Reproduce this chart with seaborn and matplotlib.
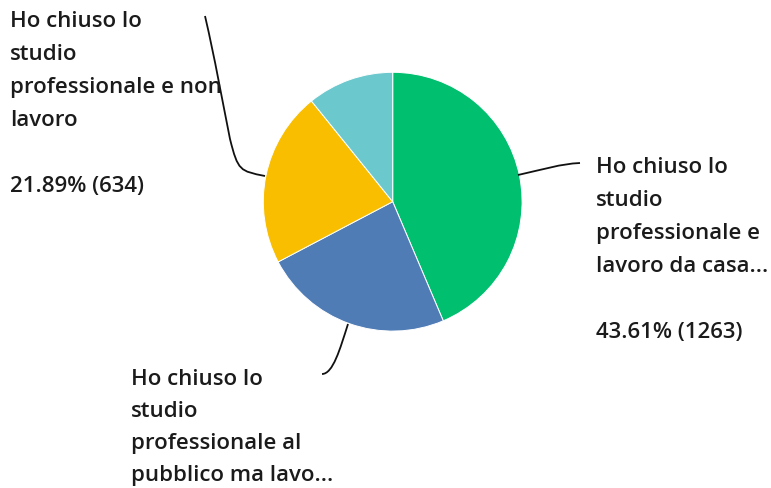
import matplotlib
matplotlib.use("Agg")
import matplotlib.pyplot as plt
from matplotlib.path import Path
from matplotlib.patches import PathPatch
import seaborn as sns

# ---- data ----
categories = [
    "Ho chiuso lo studio professionale e lavoro da casa...",
    "Ho chiuso lo studio professionale al pubblico ma lavo...",
    "Ho chiuso lo studio professionale e non lavoro",
    "Altro",
]
counts = [1263, 686, 634, 313]
colors = ["#00BF6F", "#507CB6", "#F9BE00", "#6BC8CD"]

label_green = ["Ho chiuso lo", "studio", "professionale e", "lavoro da casa...", "", "43.61% (1263)"]
label_blue = ["Ho chiuso lo", "studio", "professionale al", "pubblico ma lavo..."]
label_yellow = ["Ho chiuso lo", "studio", "professionale e non", "lavoro", "", "21.89% (634)"]

sns.set_theme(style="white")
plt.rcParams["font.family"] = ["Open Sans", "DejaVu Sans"]

W, H = 771, 489
fig = plt.figure(figsize=(W / 100, H / 100), dpi=100)
ax = fig.add_axes([0, 0, 1, 1])

cx, cy, r = 392.7, H - 202.7, 129.4
ax.pie(counts, colors=colors, startangle=90, counterclock=False,
       center=(cx, cy), radius=r,
       wedgeprops=dict(edgecolor="white", linewidth=0.7))
ax.set_xlim(0, W)
ax.set_ylim(0, H)
ax.set_aspect("equal")
ax.axis("off")

def Y(y):
    return H - y

def curve(pts):
    verts = [(x, Y(y)) for x, y in pts]
    codes = [Path.MOVETO] + [Path.CURVE4] * (len(verts) - 1)
    ax.add_patch(PathPatch(Path(verts, codes), fill=False, lw=1.3, color="#111111"))

# leader lines
curve([(518, 176), (545, 170), (560, 165), (580, 164)])
curve([(265, 177), (240, 172), (238, 172), (230, 140), (222, 100), (215, 60), (205, 17)])
curve([(348, 325), (340, 350), (333, 375), (322, 375)])

tc = "#1b1b1b"
fs = 16

def block(lines, x, y0, step=33):
    for i, t in enumerate(lines):
        if t:
            ax.text(x, Y(y0 + i * step), t, fontsize=fs, fontweight="semibold",
                    color=tc, ha="left", va="center")

block(label_yellow, 10, 22)
block(label_green, 596, 168)
block(label_blue, 131, 380, step=32)

fig.savefig("out.png", dpi=100)
